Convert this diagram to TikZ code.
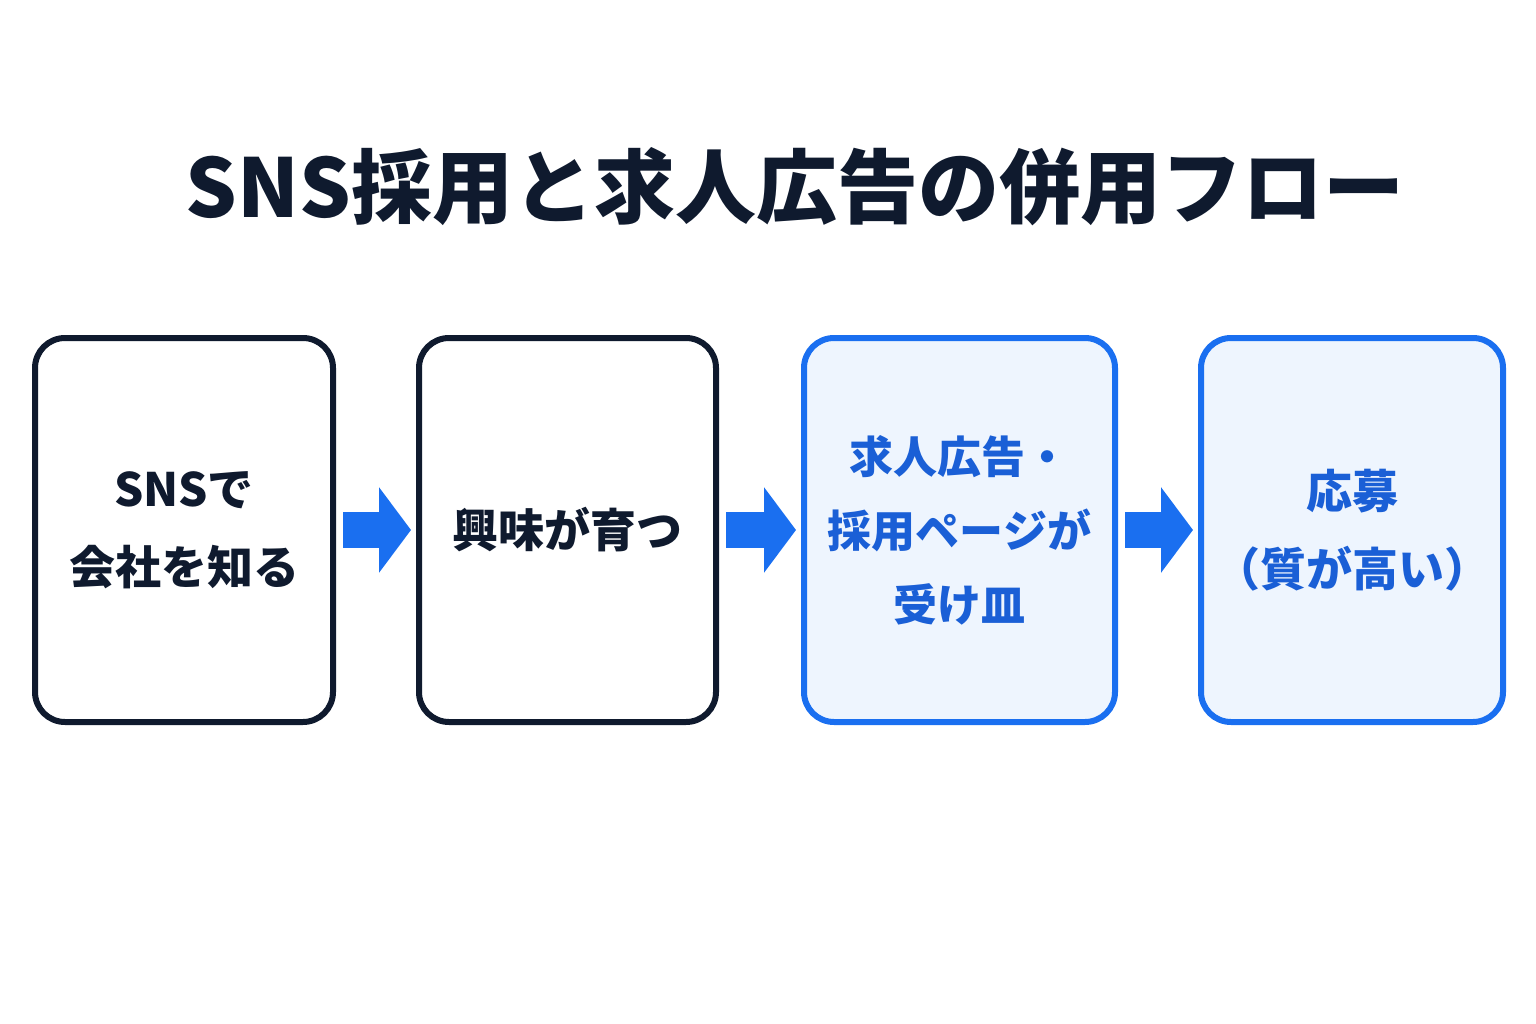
\documentclass[tikz,border=0pt]{standalone}
\usepackage{fontspec}
\setmainfont{Noto Sans CJK JP}
\usetikzlibrary{arrows.meta}
\definecolor{dk}{HTML}{0F1A2E}
\definecolor{bl}{HTML}{1A6FF0}
\definecolor{bt}{HTML}{1A5FD6}
\definecolor{lb}{HTML}{EEF5FE}
\begin{document}
\begin{tikzpicture}[x=1pt,y=1pt,
 box/.style={draw=dk,line width=6pt,rounded corners=30pt,fill=white,minimum height=384pt,align=center,font=\fontsize{46}{78}\selectfont\bfseries,text=dk},
 bbox/.style={box,draw=bl,fill=lb,text=bt},
 arr/.style={draw=bl,line width=36pt,-{Triangle[width=84pt,length=32pt]}}]
\useasboundingbox (0,0) rectangle (1536,-1024);
\node[font=\fontsize{81}{90}\selectfont\bfseries,text=dk] (t) at (795,-187) {SNS採用と求人広告の併用フロー};
\node[box,minimum width=298pt] (b1) at (184,-530) {SNSで\\会社を知る};
\node[box,minimum width=297pt] (b2) at (567.5,-530) {興味が育つ};
\node[bbox,minimum width=311pt,font=\fontsize{44}{74}\selectfont\bfseries] (b3) at (959.5,-530) {求人広告・\\採用ページが\\受け皿};
\node[bbox,minimum width=302pt] (b4) at (1352,-530) {応募\\（質が高い）};
\draw[arr] ([xshift=7pt]b1.east) -- ([xshift=-5pt]b2.west);
\draw[arr] ([xshift=7pt]b2.east) -- ([xshift=-5pt]b3.west);
\draw[arr] ([xshift=7pt]b3.east) -- ([xshift=-5pt]b4.west);
\end{tikzpicture}
\end{document}
